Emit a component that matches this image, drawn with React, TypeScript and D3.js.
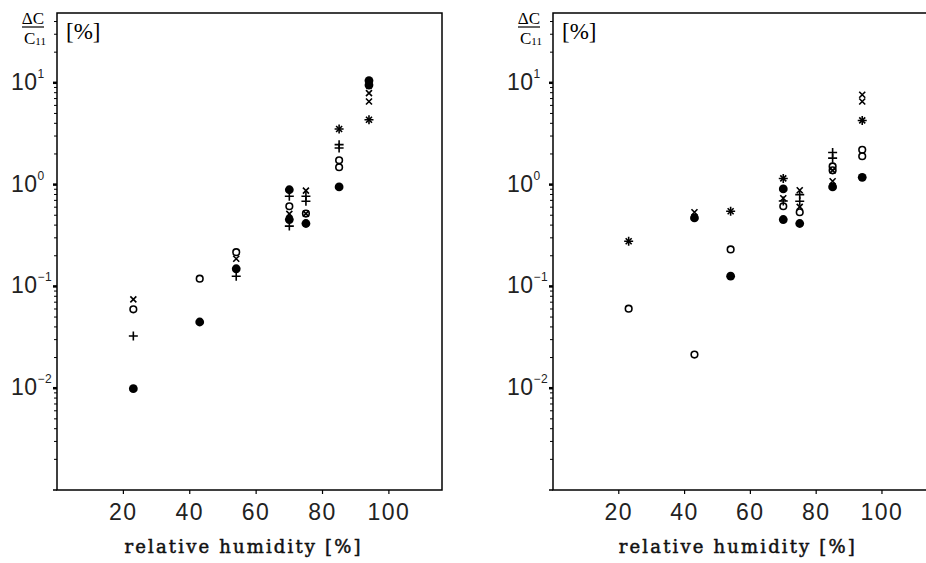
import React from 'react';
import * as d3 from 'd3';

type Pt = [number, number];

// humidity ticks on the x axis
const xTicks = [20, 40, 60, 80, 100];
const yDecades = [-2, -1, 0, 1];

// left panel, [relative humidity, dC/C11 in %]
const leftFilled: Pt[] = [[23, 0.0099], [43, 0.0447], [54, 0.149], [70, 0.89], [70, 0.454], [75, 0.415], [85, 0.949], [94, 10.5], [94, 9.5]];
const leftOpen: Pt[] = [[23, 0.0595], [43, 0.119], [54, 0.217], [70, 0.613], [75, 0.519], [85, 1.73], [85, 1.48]];
const leftCross: Pt[] = [[23, 0.0746], [54, 0.187], [70, 0.516], [75, 0.873], [75, 0.519], [85, 3.52], [94, 7.93], [94, 6.56], [94, 4.34]];
const leftPlus: Pt[] = [[23, 0.0326], [54, 0.126], [70, 0.769], [70, 0.391], [75, 0.769], [75, 0.687], [85, 3.52], [85, 2.47], [85, 2.29], [94, 4.34]];

// right panel
const rightFilled: Pt[] = [[43, 0.471], [54, 0.126], [70, 0.907], [70, 0.454], [75, 0.415], [85, 0.949], [94, 1.18]];
const rightOpen: Pt[] = [[23, 0.0604], [43, 0.0214], [54, 0.231], [70, 0.613], [75, 0.535], [85, 1.51], [85, 1.38], [94, 2.2], [94, 1.9]];
const rightCross: Pt[] = [[23, 0.278], [43, 0.535], [54, 0.548], [70, 1.15], [70, 0.734], [75, 0.879], [75, 0.604], [85, 1.38], [85, 1.08], [94, 7.63], [94, 6.56], [94, 4.27]];
const rightPlus: Pt[] = [[23, 0.278], [54, 0.548], [70, 1.15], [70, 0.69], [75, 0.798], [75, 0.687], [85, 2.07], [85, 1.82], [94, 4.27]];

const W = 926;
const H = 563;
const top = 13;
const bottom = 490;
const sans = 'Liberation Sans, Arial, sans-serif';
const serif = 'Liberation Serif, serif';

const Panel = ({ x0, x1, filled, open, cross, plus }: { x0: number; x1: number; filled: Pt[]; open: Pt[]; cross: Pt[]; plus: Pt[] }) => {
  const x = d3.scaleLinear().domain([0, 116]).range([x0, x1]);
  const y = d3.scaleLog().domain([0.001, 48.5]).range([bottom, top]);

  const minor: number[] = [];
  for (let e = -3; e <= 1; e++) {
    for (let m = 2; m <= 9; m++) {
      const v = m * Math.pow(10, e);
      if (v < 48.5) minor.push(v);
    }
  }

  const labelX = (x0 + x1) / 2;

  return (
    <g>
      {/* frame */}
      <rect x={x0} y={top} width={x1 - x0} height={bottom - top} fill="none" stroke="#000" strokeWidth={1.5} />
      <line x1={x0 - 4} x2={x0} y1={bottom} y2={bottom} stroke="#000" strokeWidth={1.5} />

      {/* y ticks */}
      {minor.map((v, i) => (
        <line key={'m' + i} x1={x0 - 3} x2={x0} y1={y(v)} y2={y(v)} stroke="#000" strokeWidth={1} />
      ))}
      {yDecades.map(d => (
        <g key={'d' + d}>
          <line x1={x0 - 4} x2={x0} y1={y(Math.pow(10, d))} y2={y(Math.pow(10, d))} stroke="#000" strokeWidth={2.5} />
          <text x={x0 - 46} y={y(Math.pow(10, d)) + 7} fontFamily={sans} fontSize={23} letterSpacing={0.5} fill="#222">
            10
            <tspan dy={-12} fontSize={12}>{d < 0 ? '\u2212' + Math.abs(d) : d}</tspan>
          </text>
        </g>
      ))}

      {/* x ticks */}
      {xTicks.map(t => (
        <g key={'x' + t}>
          <line x1={x(t)} x2={x(t)} y1={bottom} y2={bottom + 4} stroke="#000" strokeWidth={1.2} />
          <text x={x(t)} y={bottom + 30} textAnchor="middle" fontFamily={sans} fontSize={23} letterSpacing={1.5} fill="#222">
            {t}
          </text>
        </g>
      ))}

      <text x={labelX - 7} y={bottom + 63} textAnchor="middle" fontFamily="DejaVu Serif, serif" fontSize={18} stroke="#111" strokeWidth={0.5} textLength={236} lengthAdjust="spacing" fill="#111">
        relative humidity [%]
      </text>

      {/* y title: dC / C11 */}
      <text x={x0 - 24} y={24} textAnchor="middle" fontFamily={serif} fontSize={17}>ΔC</text>
      <line x1={x0 - 35} x2={x0 - 13} y1={27} y2={27} stroke="#000" strokeWidth={1.2} />
      <text x={x0 - 33} y={44} fontFamily={serif} fontSize={17}>
        C<tspan fontSize={11} dy={1}>11</tspan>
      </text>
      <text x={x0 + 9} y={39} fontFamily={serif} fontSize={23}>[%]</text>

      {/* markers */}
      {filled.map((d, i) => (
        <circle key={'f' + i} cx={x(d[0])} cy={y(d[1])} r={4.4} fill="#000" />
      ))}
      {open.map((d, i) => (
        <circle key={'o' + i} cx={x(d[0])} cy={y(d[1])} r={3.3} fill="none" stroke="#000" strokeWidth={1.6} />
      ))}
      {cross.map((d, i) => {
        const cx = x(d[0]);
        const cy = y(d[1]);
        return (
          <path key={'c' + i} d={`M${cx - 3},${cy - 3}L${cx + 3},${cy + 3}M${cx - 3},${cy + 3}L${cx + 3},${cy - 3}`} stroke="#000" strokeWidth={1.6} />
        );
      })}
      {plus.map((d, i) => {
        const cx = x(d[0]);
        const cy = y(d[1]);
        return (
          <path key={'p' + i} d={`M${cx - 4.5},${cy}L${cx + 4.5},${cy}M${cx},${cy - 4.5}L${cx},${cy + 4.5}`} stroke="#000" strokeWidth={1.6} />
        );
      })}
    </g>
  );
};

export default function App() {
  return (
    <svg width={W} height={H} style={{ position: 'absolute', left: 0, top: 0, background: '#fff' }}>
      <rect width={W} height={H} fill="#fff" />
      <Panel x0={57} x1={442} filled={leftFilled} open={leftOpen} cross={leftCross} plus={leftPlus} />
      <Panel x0={553} x1={934.6} filled={rightFilled} open={rightOpen} cross={rightCross} plus={rightPlus} />
    </svg>
  );
}
